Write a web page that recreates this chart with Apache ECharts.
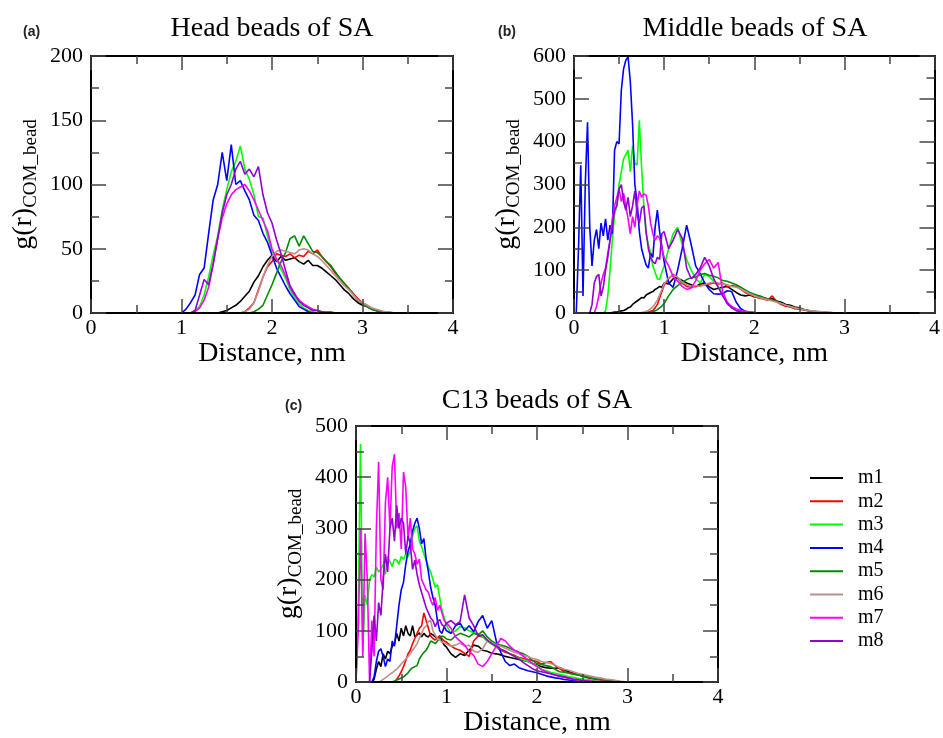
<!DOCTYPE html>
<html><head><meta charset="utf-8">
<script src="https://cdn.jsdelivr.net/npm/echarts@6/dist/echarts.min.js"></script>
<style>html,body{margin:0;padding:0;background:#fff}#c{width:943px;height:738px}</style>
</head><body><div id="c"></div>
<script>
// ---------- names / colours ----------
const NAMES = ['m1','m2','m3','m4','m5','m6','m7','m8'];
const COLORS = ['#000000','#ff0000','#00ff00','#0000ff','#008b00','#bc8f8f','#ff00ff','#9400d3'];
const TITLES = ['Head beads of SA','Middle beads of SA','C13 beads of SA'];
const PANEL_TAGS = ['(a)','(b)','(c)'];
const X_TICKS = [0,1,2,3,4];
const Y_MAX = [200,600,500];
const Y_STEP = [50,100,100];

// ---------- panel (a): Head beads ----------
const DIST_A = [0.95,1,1.05,1.1,1.15,1.2,1.25,1.3,1.35,1.4,
 1.45,1.5,1.55,1.6,1.65,1.7,1.75,1.8,1.85,1.9,
 1.95,2,2.05,2.1,2.15,2.2,2.25,2.3,2.35,2.4,
 2.45,2.5,2.55,2.6,2.65,2.7,2.75,2.8,2.85,2.9,
 2.95,3,3.05,3.1,3.15,3.2,3.25,3.3,3.35,3.4,
 3.45];
const m1A = [0,0,0,0,0,0,0,0,0,0, 1,2,4,6,9,13,17,24,29,36, 41,45,40,44,41,42,43,40,38,41, 37,37,35,32,29,26,22,18,15,11, 8,6,5,3,2,1,1,0,0,0, 0];
const m2A = [0,0,0,0,0,0,0,0,0,0, 0,0,0,0,0,1,4,8,18,28, 36,40,46,45,44,46,43,45,44,48, 46,49,44,40,36,31,27,23,19,15, 11,8,6,4,2,1,1,0,0,0, 0];
const m3A = [0,0,0,0,2,5,14,28,45,60, 80,96,110,118,130,112,104,92,75,74, 60,48,42,34,27,18,12,7,4,2, 1,0,0,0,0,0,0,0,0,0, 0,0,0,0,0,0,0,0,0,0, 0];
const m4A = [0,0,3,8,14,30,35,62,88,100, 125,103,131,100,103,95,88,76,72,62, 55,45,35,28,21,15,10,5,3,1, 0,0,0,0,0,0,0,0,0,0, 0,0,0,0,0,0,0,0,0,0, 0];
const m5A = [0,0,0,0,0,0,0,0,0,0, 0,0,0,0,0,0,0,1,3,6, 14,22,31,40,47,58,60,52,60,54, 48,47,44,40,37,32,27,23,19,14, 10,7,5,3,2,1,0,0,0,0, 0];
const m6A = [0,0,0,0,0,0,0,0,0,0, 0,0,0,0,0,1,3,8,17,28, 37,44,48,49,48,47,46,49,50,49, 46,44,41,37,33,29,25,21,18,14, 10,8,6,4,3,2,1,1,0,0, 0];
const m7A = [0,0,0,0,1,4,10,20,38,58, 74,85,92,96,98,100,95,88,80,72, 64,50,42,37,29,20,14,10,7,5, 3,2,1,1,1,0,0,0,0,0, 0,0,0,0,0,0,0,0,0,0, 0];
const m8A = [0,0,0,0,2,14,26,22,38,58, 78,92,100,112,118,108,112,106,114,92, 78,70,57,46,33,21,15,9,6,4, 2,2,1,0,0,0,0,0,0,0, 0,0,0,0,0,0,0,0,0,0, 0];

// ---------- panels (b) and (c): shared distance grid ----------
const DIST_BC = [0,0.025,0.05,0.075,0.1,0.125,0.15,0.175,0.2,0.225,
 0.25,0.275,0.3,0.325,0.35,0.375,0.4,0.425,0.45,0.475,
 0.5,0.525,0.55,0.575,0.6,0.625,0.65,0.675,0.7,0.725,
 0.75,0.775,0.8,0.825,0.85,0.875,0.9,0.925,0.95,0.975,
 1.0,1.05,1.1,1.15,1.2,1.25,1.3,1.35,1.4,1.45,1.5,
 1.55,1.6,1.65,1.7,1.75,1.8,1.85,1.9,1.95,2.0,
 2.05,2.1,2.15,2.2,2.25,2.3,2.35,2.4,2.45,2.5,
 2.55,2.6,2.65,2.7,2.75,2.8,2.85,2.9,2.95,3.0];

// panel (b): Middle beads
const m1B = [0,0,0,0,0,0,0,0,0,0, 0,0,0,0,0,0,0,1,2,2, 4,5,6,8,12,14,20,24,28,32, 36,35,42,45,48,50,55,58,62,60,
 70,68,80,82,76,70,66,62,68,70,61, 55,58,60,62,55,48,42,40,42,38, 40,36,32,34,28,25,20,18,14,12, 8,6,4,3,2,1,0,0,0,0];
const m2B = [0,0,0,0,0,0,0,0,0,0, 0,0,0,0,0,0,0,0,0,0, 0,0,0,0,0,0,0,0,0,0, 0,0,1,2,4,6,12,20,35,50,
 65,80,90,82,70,62,60,62,64,66,68, 70,68,70,62,64,62,55,48,44,38, 35,33,30,40,26,20,16,14,10,9, 7,5,4,3,2,1,1,0,0,0];
const m3B = [0,0,0,0,0,0,0,0,0,0, 0,0,0,0,5,40,100,170,230,250, 300,330,360,370,380,330,390,350,345,450, 340,250,185,160,140,110,95,80,78,95,
 110,150,185,200,160,125,100,80,70,90,85, 75,62,45,25,12,5,2,0,0,0, 0,0,0,0,0,0,0,0,0,0, 0,0,0,0,0,0,0,0,0,0];
const m4B = [0,0,150,345,40,300,445,200,110,170, 195,150,210,180,220,170,205,185,380,400, 395,520,570,590,598,540,440,300,260,190, 150,130,112,105,140,130,200,240,190,155,
 120,70,60,100,150,205,160,110,92,70,55, 45,44,45,52,50,25,10,4,2,1, 0,0,0,0,0,0,0,0,0,0, 0,0,0,0,0,0,0,0,0,0];
const m5B = [0,0,0,0,0,0,0,0,0,0, 0,0,0,0,0,0,0,0,0,0, 0,0,0,0,0,0,0,0,0,0, 0,0,0,0,1,3,5,8,12,16,
 22,40,55,64,72,78,82,84,90,92,88, 86,82,76,74,70,66,60,54,48,44, 40,36,33,30,27,22,18,15,12,10, 8,6,4,3,2,1,0,0,0,0];
const m6B = [0,0,0,0,0,0,0,0,0,0, 0,0,0,0,0,0,0,0,0,0, 0,0,0,0,0,0,0,0,0,0, 1,2,4,6,10,14,22,30,42,55,
 68,82,88,84,72,66,62,64,62,66,70, 72,70,68,66,62,60,56,50,45,40, 37,34,31,28,25,22,18,15,12,10, 8,6,5,4,3,2,1,0,0,0];
const m7B = [0,0,0,0,0,0,0,0,0,0, 15,40,70,90,105,140,170,220,250,270, 290,260,280,250,220,185,225,200,250,285, 270,278,275,250,210,185,170,180,175,150,
 130,110,85,75,62,55,58,75,100,115,125, 105,118,50,25,15,10,6,4,2,1, 0,0,0,0,0,0,0,0,0,0, 0,0,0,0,0,0,0,0,0,0];
const m8B = [0,0,0,0,0,0,0,0,20,70, 85,90,40,60,100,130,170,200,240,250, 290,300,260,240,270,225,250,285,230,210, 245,250,190,150,130,120,115,130,125,185,
 190,150,170,195,175,105,80,90,105,130,110, 80,60,40,22,12,6,3,1,0,0, 0,0,0,0,0,0,0,0,0,0, 0,0,0,0,0,0,0,0,0,0];

// panel (c): C13 beads
const m1C = [0,0,0,0,0,0,0,0,5,25, 40,30,55,45,60,55,70,75,95,80, 105,90,110,95,90,110,88,92,96,88, 95,90,88,95,92,88,85,90,80,72,
 68,55,48,55,52,62,72,70,62,60,56, 55,53,50,48,46,44,42,40,36,33, 30,28,27,27,28,24,20,17,14,12, 9,7,6,5,4,3,2,1,0,0];
const m2C = [0,0,0,0,0,0,0,0,0,0, 0,0,0,0,0,0,0,0,5,12, 20,30,42,55,62,75,85,95,105,110, 135,120,105,90,85,82,86,90,85,80,
 78,70,65,62,56,50,80,90,88,82,75, 68,62,58,55,52,48,46,44,42,40, 35,38,40,32,26,20,18,16,14,12, 10,8,5,4,3,3,2,1,0,0];
const m3C = [0,150,465,60,170,150,200,210,205,225, 215,220,230,210,245,235,225,240,238,230, 245,240,250,245,255,285,300,305,275,265, 250,238,225,215,200,185,190,165,140,125,
 110,95,100,108,106,100,96,94,88,80,74, 68,64,60,55,50,47,43,40,36,32, 25,22,19,17,15,13,10,9,7,6, 5,4,2,1,0,0,0,0,0,0];
const m4C = [0,0,0,0,0,0,0,0,10,40, 60,65,50,30,45,40,80,70,110,150, 180,195,230,255,270,295,310,320,300,270, 280,240,215,185,165,150,120,100,95,108,
 100,95,110,115,100,110,98,118,130,105,120, 80,58,40,32,35,28,25,22,20,18, 15,12,10,8,7,5,4,3,2,1, 0,0,0,0,0,0,0,0,0,0];
const m5C = [0,0,0,0,0,0,0,0,0,0, 0,0,0,0,0,0,0,2,4,6, 8,10,14,18,24,28,30,32,45,52, 58,62,70,80,78,75,80,85,90,88,
 84,82,90,95,92,88,95,92,100,88,80, 75,72,70,66,62,58,55,50,42,36, 34,32,30,25,20,19,17,15,14,12, 10,8,6,5,4,3,2,1,0,0];
const m6C = [0,0,0,0,0,0,0,0,0,0, 0,2,5,8,12,15,18,22,25,30, 35,40,45,50,55,62,68,75,85,95, 105,110,118,120,100,92,85,82,78,76,
 74,70,72,76,70,72,60,58,65,80,76, 72,70,66,62,58,55,52,50,46,44, 40,38,36,33,28,25,23,20,17,15, 13,11,9,8,6,5,4,2,1,0];
const m7C = [0,100,300,50,290,200,0,120,50,300, 430,200,180,350,400,300,420,445,300,330, 260,410,380,280,320,260,250,230,240,200, 190,180,175,160,150,165,140,150,135,120,
 115,105,88,80,72,60,52,35,30,40,55, 70,85,80,70,62,58,50,43,36,30, 24,20,16,13,11,9,7,5,4,3, 2,2,1,1,1,1,0,0,0,0];
const m8C = [0,0,0,0,0,0,0,60,130,80, 155,130,200,250,215,300,320,275,345,300, 320,310,250,285,270,220,238,210,190,175, 160,145,135,125,120,108,118,122,112,108,
 115,120,112,118,170,125,110,90,92,82,75, 70,64,60,55,50,45,38,32,26,22, 20,18,16,14,12,10,8,6,5,3, 2,1,0,0,0,0,0,0,0,0];

const PANELS = [
  {dist: DIST_A, sets: [m1A,m2A,m3A,m4A,m5A,m6A,m7A,m8A]},
  {dist: DIST_BC, sets: [m1B,m2B,m3B,m4B,m5B,m6B,m7B,m8B]},
  {dist: DIST_BC, sets: [m1C,m2C,m3C,m4C,m5C,m6C,m7C,m8C]}
];

// ---------- layout ----------
const SERIF = 'Liberation Serif';
const GRIDS = [
  {left:91, top:56, width:362, height:257},
  {left:574, top:56, width:362, height:257},
  {left:356, top:426, width:362, height:256}
];
const TICK = {color:'#444', width:1.5};

function mkX(gi, main) {
  return {
    type:'value', gridIndex:gi, position: main ? 'bottom' : 'top',
    min:X_TICKS[0], max:X_TICKS[X_TICKS.length-1], interval:1, z:10,
    axisLine:{show:true, onZero:false, lineStyle:{color:'#000', width:2}},
    axisTick:{show:true, inside:true, length:14, lineStyle:TICK},
    minorTick:{show:true, splitNumber:2, length:8, lineStyle:TICK},
    splitLine:{show:false}, minorSplitLine:{show:false},
    axisLabel:{show:main, margin:4, fontFamily:SERIF, fontSize:22, color:'#000'},
    name: main ? 'Distance, nm' : '', nameLocation:'middle', nameGap:25,
    nameTextStyle:{fontFamily:SERIF, fontSize:28, color:'#000'}
  };
}
function mkY(gi, main) {
  return {
    type:'value', gridIndex:gi, position: main ? 'left' : 'right',
    min:0, max:Y_MAX[gi], interval:Y_STEP[gi], z:10,
    axisLine:{show:true, onZero:false, lineStyle:{color:'#000', width:2}},
    axisTick:{show:true, inside:true, length:15, lineStyle:TICK},
    minorTick:{show:true, splitNumber:2, length:8, lineStyle:TICK},
    splitLine:{show:false}, minorSplitLine:{show:false},
    axisLabel:{show:main, margin:8, fontFamily:SERIF, fontSize:22, color:'#000'},
    name: main ? '{a|g(r)}{b|COM_bead}' : '', nameLocation:'middle', nameGap:50,
    nameTextStyle:{fontFamily:SERIF, color:'#000',
      rich:{
        a:{fontFamily:SERIF, fontSize:28, lineHeight:34, color:'#000'},
        b:{fontFamily:SERIF, fontSize:19, color:'#000', padding:[14,0,0,0]}
      }}
  };
}

const xAxis = [], yAxis = [];
for (let g = 0; g < 3; g++) {
  xAxis.push(mkX(g, true), mkX(g, false));
  yAxis.push(mkY(g, true), mkY(g, false));
}

const series = [];
PANELS.forEach((p, g) => {
  p.sets.forEach((vals, k) => {
    series.push({
      name: NAMES[k], type:'line', xAxisIndex: 2*g, yAxisIndex: 2*g,
      data: p.dist.map((d, i) => [d, vals[i]]),
      showSymbol:false, symbol:'none', clip:true,
      lineStyle:{color:COLORS[k], width:1.6},
      itemStyle:{color:COLORS[k]},
      emphasis:{disabled:true}
    });
  });
});

const titlePos = [{x:272, y:29}, {x:755, y:29}, {x:537, y:401}];
const tagPos = [{x:23, y:32}, {x:498, y:32}, {x:285, y:406}];
const graphic = [];
for (let g = 0; g < 3; g++) {
  graphic.push({type:'text', x:titlePos[g].x, y:titlePos[g].y, z:20,
    style:{text:TITLES[g], fontFamily:SERIF, fontSize:28, fill:'#000',
      align:'center', verticalAlign:'middle', textAlign:'center', textVerticalAlign:'middle'}});
  graphic.push({type:'text', x:tagPos[g].x, y:tagPos[g].y, z:20,
    style:{text:PANEL_TAGS[g], fontFamily:'Liberation Sans', fontWeight:'bold', fontSize:14, fill:'#222',
      align:'left', verticalAlign:'middle', textAlign:'left', textVerticalAlign:'middle'}});
}

const chart = echarts.init(document.getElementById('c'), null, {renderer:'canvas'});
chart.setOption({
  animation:false,
  backgroundColor:'#ffffff',
  grid: GRIDS,
  xAxis, yAxis, series, graphic,
  legend:{
    orient:'vertical', left:805, top:463, itemWidth:33, itemHeight:2, itemGap:3.3,
    icon:'rect', data:NAMES, selectedMode:false,
    textStyle:{fontFamily:SERIF, fontSize:20, lineHeight:20, color:'#000', padding:[0,0,0,10]}
  }
});
</script></body></html>
